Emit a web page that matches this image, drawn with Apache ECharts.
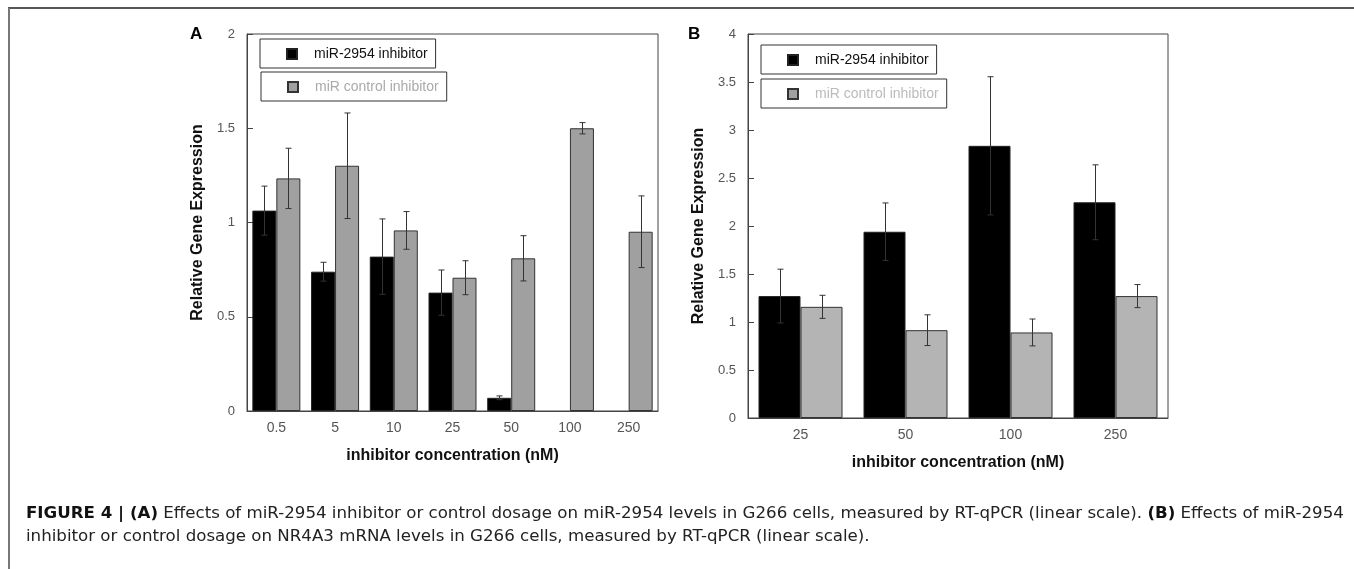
<!DOCTYPE html>
<html>
<head>
<meta charset="utf-8">
<script src="https://cdn.jsdelivr.net/npm/echarts@6/dist/echarts.min.js"></script>
<style>
html,body{margin:0;padding:0;background:#fff;}
#chart{width:1354px;height:569px;}
</style>
</head>
<body>
<div id="chart"></div>
<script>
// ---- Data ----
const catsA = ['0.5', '5', '10', '25', '50', '100', '250'];
const inhibA = [1.063, 0.739, 0.819, 0.628, 0.07, null, null];
const inhibErrA = [0.13, 0.05, 0.20, 0.12, 0.01, null, null];
const controlA = [1.234, 1.301, 0.958, 0.707, 0.81, 1.50, 0.951];
const controlErrA = [0.16, 0.28, 0.10, 0.09, 0.12, 0.03, 0.19];

const catsB = ['25', '50', '100', '250'];
const inhibB = [1.27, 1.94, 2.835, 2.247];
const inhibErrB = [0.28, 0.30, 0.72, 0.39];
const controlB = [1.158, 0.915, 0.891, 1.27];
const controlErrB = [0.12, 0.16, 0.14, 0.12];

const yTicksA = [0, 0.5, 1, 1.5, 2];
const yTicksB = [0, 0.5, 1, 1.5, 2, 2.5, 3, 3.5, 4];

const nameInhib = 'miR-2954 inhibitor';
const nameCtrl = 'miR control inhibitor';

// ---- Helpers ----
const BW_A = 24, BW_B = 42;
function errData(vals, errs) {
  const out = [];
  vals.forEach((v, i) => {
    if (v != null && errs[i] != null) out.push([i, v - errs[i], v + errs[i]]);
  });
  return out;
}
function errSeries(name, xi, vals, errs, offset) {
  return {
    type: 'custom',
    name: name + ' error',
    xAxisIndex: xi, yAxisIndex: xi,
    silent: true, z: 5,
    encode: { x: 0, y: [1, 2] },
    data: errData(vals, errs),
    renderItem: function (params, api) {
      const lo = api.coord([api.value(0), api.value(1)]);
      const hi = api.coord([api.value(0), api.value(2)]);
      const x = Math.round(lo[0] + offset) + 0.5;
      const cap = 3;
      const st = { stroke: '#333', lineWidth: 1 };
      return {
        type: 'group',
        children: [
          { type: 'line', shape: { x1: x, y1: hi[1], x2: x, y2: lo[1] }, style: st },
          { type: 'line', shape: { x1: x - cap, y1: hi[1], x2: x + cap, y2: hi[1] }, style: st },
          { type: 'line', shape: { x1: x - cap, y1: lo[1], x2: x + cap, y2: lo[1] }, style: st }
        ]
      };
    }
  };
}
const fontMain = 'Liberation Sans, Arial, sans-serif';
function yAxis(gi, max, ticks) {
  return {
    type: 'value', gridIndex: gi, min: 0, max: max, interval: 0.5,
    name: 'Relative Gene Expression', nameLocation: 'middle', nameGap: 41,
    nameTextStyle: { fontFamily: fontMain, fontWeight: 'bold', fontSize: 16, color: '#111' },
    axisLine: { show: true, lineStyle: { color: '#444', width: 1 } },
    axisTick: { show: true, inside: true, length: 6, lineStyle: { color: '#444' } },
    axisLabel: { fontFamily: fontMain, fontSize: 13, color: '#555', margin: 12,
      formatter: v => ticks.indexOf(v) >= 0 ? String(v) : '' },
    splitLine: { show: false }
  };
}
function xAxis(gi, cats) {
  return {
    type: 'category', gridIndex: gi, data: cats,
    name: 'inhibitor concentration (nM)', nameLocation: 'middle', nameGap: 37,
    nameTextStyle: { fontFamily: fontMain, fontWeight: 'bold', fontSize: 16, color: '#111' },
    axisLine: { show: true, lineStyle: { color: '#444', width: 1 } },
    axisTick: { show: false },
    axisLabel: { fontFamily: fontMain, fontSize: 14, color: '#555', margin: 10 }
  };
}
function legend(left, top, name, textColor, gap) {
  return {
    left: left, top: top, data: [name], orient: 'horizontal',
    borderColor: '#333', borderWidth: 1, borderRadius: 0,
    padding: [8, 8, 7, 26],
    itemWidth: 10, itemHeight: 10, icon: 'rect',
    textStyle: { fontFamily: fontMain, fontSize: 14, color: textColor, padding: [0, 0, 0, gap] },
    selectedMode: false
  };
}

const chart = echarts.init(document.getElementById('chart'), null, { renderer: 'canvas' });
const option = {
  animation: false,
  backgroundColor: '#fff',
  grid: [
    { left: 247, top: 34, width: 411, height: 377, show: true, borderColor: '#444', borderWidth: 1, backgroundColor: 'transparent' },
    { left: 748, top: 34, width: 420, height: 384, show: true, borderColor: '#444', borderWidth: 1, backgroundColor: 'transparent' }
  ],
  xAxis: [xAxis(0, catsA), xAxis(1, catsB)],
  yAxis: [yAxis(0, 2, yTicksA), yAxis(1, 4, yTicksB)],
  legend: [
    legend(260, 39, nameInhib, '#111', 12),
    legend(261, 72, nameCtrl, '#aaa', 12),
    legend(761, 45, nameInhib, '#111', 12),
    legend(761, 79, nameCtrl, '#bbb', 12)
  ],
  series: [
    { type: 'bar', name: nameInhib, xAxisIndex: 0, yAxisIndex: 0, barWidth: BW_A, barGap: '0%',
      data: inhibA.map(v => v == null ? '-' : v),
      itemStyle: { color: '#000', borderColor: '#222', borderWidth: 1 } },
    { type: 'bar', name: nameCtrl, xAxisIndex: 0, yAxisIndex: 0, barWidth: BW_A, barGap: '0%',
      data: controlA,
      itemStyle: { color: '#a0a0a0', borderColor: '#333', borderWidth: 1 } },
    errSeries(nameInhib, 0, inhibA, inhibErrA, -BW_A / 2),
    errSeries(nameCtrl, 0, controlA, controlErrA, BW_A / 2),
    { type: 'bar', name: nameInhib, xAxisIndex: 1, yAxisIndex: 1, barWidth: BW_B, barGap: '0%',
      data: inhibB,
      itemStyle: { color: '#000', borderColor: '#222', borderWidth: 1 } },
    { type: 'bar', name: nameCtrl + ' ', xAxisIndex: 1, yAxisIndex: 1, barWidth: BW_B, barGap: '0%',
      data: controlB,
      itemStyle: { color: '#b4b4b4', borderColor: '#333', borderWidth: 1 } },
    errSeries(nameInhib, 1, inhibB, inhibErrB, -BW_B / 2),
    errSeries(nameCtrl, 1, controlB, controlErrB, BW_B / 2)
  ],
  graphic: [
    { type: 'line', shape: { x1: 8, y1: 8, x2: 1354, y2: 8 }, style: { stroke: '#555', lineWidth: 2 } },
    { type: 'line', shape: { x1: 9, y1: 8, x2: 9, y2: 569 }, style: { stroke: '#777', lineWidth: 2 } },
    { type: 'text', left: 190, top: 26, style: { text: 'A', font: 'bold 17px ' + fontMain, fill: '#000' } },
    { type: 'text', left: 688, top: 26, style: { text: 'B', font: 'bold 17px ' + fontMain, fill: '#000' } },
    { type: 'text', left: 26, top: 502, style: {
      text: '{b|FIGURE 4 | (A)} Effects of miR-2954 inhibitor or control dosage on miR-2954 levels in G266 cells, measured by RT-qPCR (linear scale). {b|(B)} Effects of miR-2954\ninhibitor or control dosage on NR4A3 mRNA levels in G266 cells, measured by RT-qPCR (linear scale).',
      font: '16.65px DejaVu Sans', fill: '#222', lineHeight: 23,
      rich: { b: { font: 'bold 16.65px DejaVu Sans', fill: '#111', lineHeight: 23 } }
    } }
  ]
};
chart.setOption(option);
</script>
</body>
</html>
